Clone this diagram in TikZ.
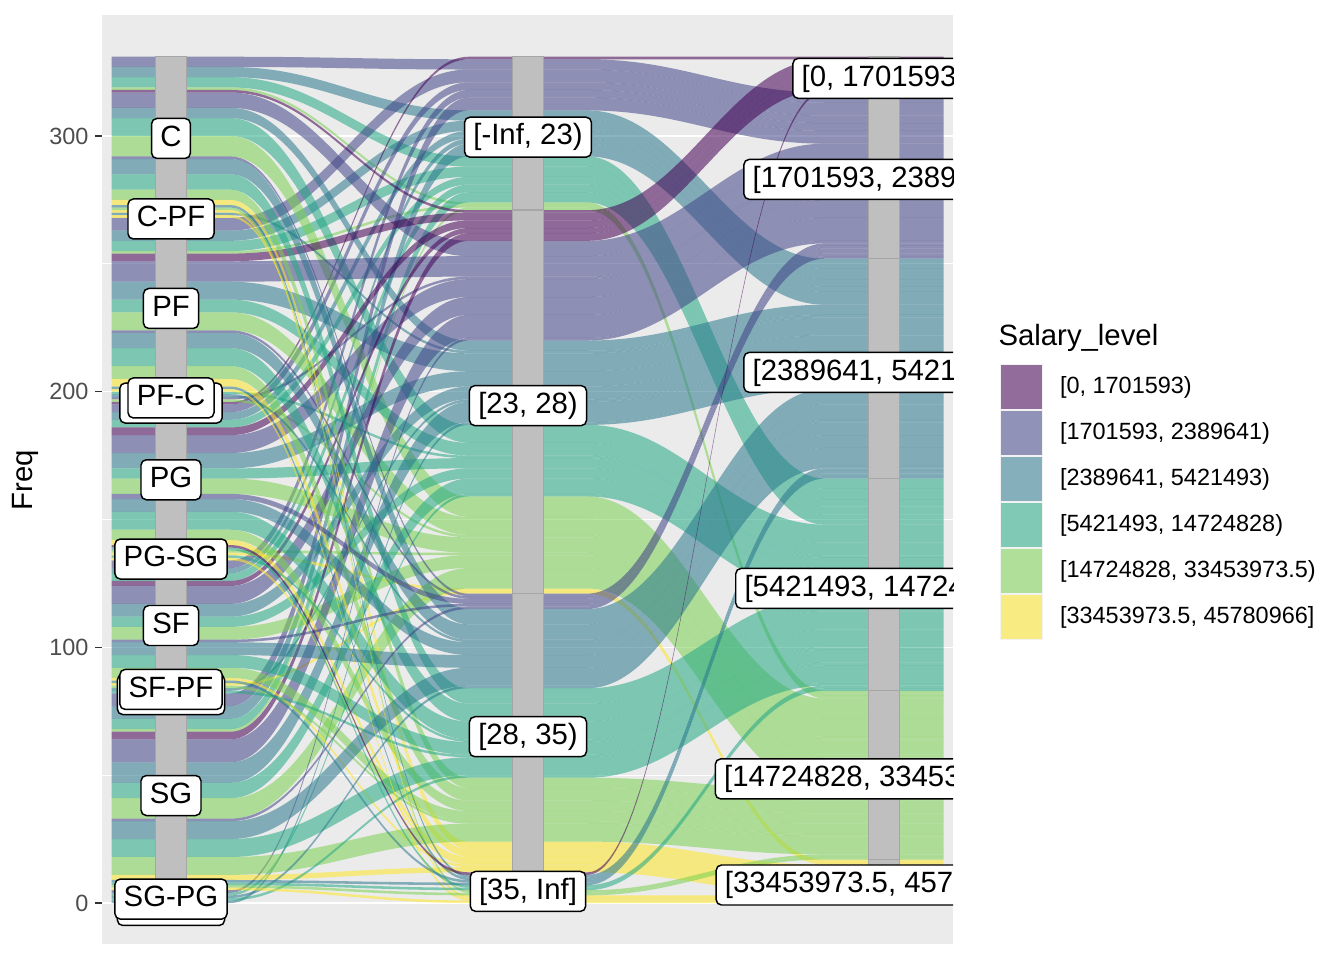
\documentclass[tikz,border=0pt]{standalone}
\usepackage{fontspec}
\setmainfont{Liberation Sans}
\usetikzlibrary{positioning}

\definecolor{sal1}{HTML}{440154}
\definecolor{sal2}{HTML}{414487}
\definecolor{sal3}{HTML}{2A788E}
\definecolor{sal4}{HTML}{22A884}
\definecolor{sal5}{HTML}{7AD151}
\definecolor{sal6}{HTML}{FDE725}
\definecolor{panelbg}{HTML}{EBEBEB}
\definecolor{keybg}{HTML}{F2F2F2}
\definecolor{strfill}{HTML}{BFBFBF}
\definecolor{strline}{HTML}{A6A6A6}
\definecolor{ticktext}{HTML}{4D4D4D}
\definecolor{tickline}{HTML}{333333}

\tikzset{
  freqaxis/.style={shift={(0,57)},yscale=2.5567},
  flow/.style={fill opacity=0.55},
  stratum/.style={fill=strfill, draw=strline, line width=0.5pt},
  lbl/.style={draw=black, fill=white, rounded corners=2pt, line width=0.55pt,
    font=\fontsize{11}{13}\selectfont, inner xsep=3.3pt, inner ysep=2.4pt,
    text height=8pt, text depth=2.2pt, yshift=-1.4pt},
  gridmajor/.style={draw=white, line width=0.6pt},
  gridminor/.style={draw=white, line width=0.3pt},
  tickmark/.style={draw=tickline, line width=0.55pt},
  ticklbl/.style={anchor=east, inner sep=0pt, text=ticktext, font=\fontsize{8.8}{10}\selectfont},
  keybox/.style={minimum width=16.1pt, minimum height=17.25pt, inner sep=0pt, fill=keybg},
  keyfill/.style={minimum width=15.3pt, minimum height=16.4pt, inner sep=0pt, fill opacity=0.55},
  legtxt/.style={anchor=west, inner sep=0pt, font=\fontsize{8.8}{10}\selectfont}
}

% position/age/salary/count
% position: 1 C, 2 C-PF, 3 PF, 4 PF-C, 5 PF-SF, 6 PG, 7 PG-SG, 8 SF, 9 SF-PF, 10 SF-SG, 11 SG, 12 SG-PG, 13 SG-SF
\def\flowdata{%
1/1/2/4,1/1/3/4,1/1/4/4,1/1/5/1,
3/1/2/5,3/1/3/4,3/1/4/4,3/1/5/1,
6/1/1/1,6/1/2/3,6/1/3/3,6/1/4/3,
8/1/2/3,8/1/3/2,8/1/4/3,
11/1/2/5,11/1/3/5,11/1/4/4,11/1/5/1,
1/2/1/1,1/2/2/6,1/2/3/4,1/2/4/7,1/2/5/8,
2/2/3/1,
3/2/1/3,3/2/2/8,3/2/3/7,3/2/4/5,3/2/5/7,
4/2/4/1,
5/2/2/1,5/2/5/1,
6/2/1/3,6/2/2/7,6/2/3/6,6/2/4/4,6/2/5/6,
7/2/5/1,7/2/6/1,
8/2/1/2,8/2/2/7,8/2/3/5,8/2/4/4,8/2/5/5,
9/2/6/1,
10/2/3/1,
11/2/1/3,11/2/2/9,11/2/3/8,11/2/4/6,11/2/5/8,
12/2/2/1,12/2/4/1,
13/2/3/1,
1/3/2/1,1/3/3/6,1/3/4/6,1/3/5/4,1/3/6/2,
2/3/6/1,
3/3/2/1,3/3/3/6,3/3/4/7,3/3/5/5,3/3/6/3,
4/3/3/1,
6/3/2/2,6/3/3/5,6/3/4/7,6/3/5/4,6/3/6/2,
7/3/4/1,7/3/6/1,
8/3/2/1,8/3/3/5,8/3/4/5,8/3/5/4,8/3/6/1,
9/3/5/1,
10/3/4/1,
11/3/2/1,11/3/3/7,11/3/4/7,11/3/5/7,11/3/6/2,
12/3/3/1,12/3/4/1,
1/4/3/1,1/4/5/1,1/4/6/1,
3/4/3/1,3/4/6/1,
6/4/1/1,6/4/4/1,
8/4/3/1,
11/4/3/1,11/4/4/1,11/4/5/1,11/4/6/1}

\begin{document}
\begin{tikzpicture}[x=0.375pt,y=0.375pt]
\useasboundingbox (0,0) rectangle (1344,960);

% counts
\foreach \posi/\agei/\sali/\frq in \flowdata
  {\expandafter\xdef\csname fq-\posi-\agei-\sali\endcsname{\frq}}

% stacking at the position axis
\gdef\cum{0}
\foreach \posi in {1,...,13}{\foreach \agei in {1,...,4}{\foreach \sali in {1,...,6}{%
  \ifcsname fq-\posi-\agei-\sali\endcsname
    \edef\fqv{\csname fq-\posi-\agei-\sali\endcsname}%
    \pgfmathsetmacro\runtop{331-\cum}%
    \expandafter\xdef\csname ya-\posi-\agei-\sali\endcsname{\runtop}%
    \pgfmathsetmacro\runtop{\cum+\fqv}%
    \xdef\cum{\runtop}%
  \fi}}}
% stacking at the age axis
\gdef\cum{0}
\foreach \agei in {1,...,4}{\foreach \sali in {1,...,6}{\foreach \posi in {1,...,13}{%
  \ifcsname fq-\posi-\agei-\sali\endcsname
    \edef\fqv{\csname fq-\posi-\agei-\sali\endcsname}%
    \pgfmathsetmacro\runtop{331-\cum}%
    \expandafter\xdef\csname yb-\posi-\agei-\sali\endcsname{\runtop}%
    \pgfmathsetmacro\runtop{\cum+\fqv}%
    \xdef\cum{\runtop}%
  \fi}}}
% stacking at the salary axis
\gdef\cum{0}
\foreach \sali in {1,...,6}{\foreach \agei in {1,...,4}{\foreach \posi in {1,...,13}{%
  \ifcsname fq-\posi-\agei-\sali\endcsname
    \edef\fqv{\csname fq-\posi-\agei-\sali\endcsname}%
    \pgfmathsetmacro\runtop{331-\cum}%
    \expandafter\xdef\csname yc-\posi-\agei-\sali\endcsname{\runtop}%
    \pgfmathsetmacro\runtop{\cum+\fqv}%
    \xdef\cum{\runtop}%
  \fi}}}

% panel
\fill[panelbg] (102,16) rectangle (953,945);

\begin{scope}[freqaxis]
  % grid and y axis
  \foreach \gy in {50,150,250}
    \draw[gridminor] (102,\gy) -- (953,\gy);
  \foreach \gy in {0,100,200,300} {
    \draw[gridmajor] (102,\gy) -- (953,\gy);
    \draw[tickmark] (95,\gy) -- (102,\gy);
    \node[ticklbl] (tick\gy) at (89,\gy) {\gy};
  }
\end{scope}

\node[rotate=90, font=\fontsize{11}{13}\selectfont] (ylab) at (25,480) {Freq};

\begin{scope}
  \clip (102,16) rectangle (953,945);
  \begin{scope}[freqaxis]
    % alluvia
    \foreach \posi/\agei/\sali/\frq in \flowdata {
      \edef\ya{\csname ya-\posi-\agei-\sali\endcsname}
      \edef\yb{\csname yb-\posi-\agei-\sali\endcsname}
      \edef\yc{\csname yc-\posi-\agei-\sali\endcsname}
      \pgfmathsetmacro\yA{\ya-\frq}
      \pgfmathsetmacro\yB{\yb-\frq}
      \pgfmathsetmacro\yC{\yc-\frq}
      \fill[flow, fill=sal\sali] (111.5,\ya) -- (230.5,\ya)
        .. controls (325.7,\ya) and (373.3,\yb) .. (468.5,\yb) -- (587.5,\yb)
        .. controls (682.3,\yb) and (729.7,\yc) .. (824.5,\yc) -- (943.5,\yc)
        -- (943.5,\yC) -- (824.5,\yC)
        .. controls (729.7,\yC) and (682.3,\yB) .. (587.5,\yB) -- (468.5,\yB)
        .. controls (373.3,\yB) and (325.7,\yA) .. (230.5,\yA) -- (111.5,\yA) -- cycle;
    }

    % strata
    \foreach \lo/\hi in {0/1,1/5,5/82,82/84,84/86,86/134,134/138,138/196,196/198,198/200,200/268,268/270,270/331}
      \filldraw[stratum] (155.5,\lo) rectangle (186.5,\hi);
    \foreach \lo/\hi in {0/12,12/121,121/271,271/331}
      \filldraw[stratum] (512.5,\lo) rectangle (543.5,\hi);
    \foreach \lo/\hi in {0/17,17/83,83/166,166/252,252/317,317/331}
      \filldraw[stratum] (868.5,\lo) rectangle (899.5,\hi);

    % stratum labels
    \foreach \nm/\txt/\yy in {SGSF/SG-SF/0.5, SGPG/SG-PG/3, SG/SG/43.5, SFSG/SF-SG/83,
        SFPF/SF-PF/85, SF/SF/110, PGSG/PG-SG/136, PG/PG/167, PFSF/PF-SF/197,
        PFC/PF-C/199, PF/PF/234, CPF/C-PF/269, C/C/300.5}
      \node[lbl] (pos-\nm) at (171,\yy) {\txt};
    \foreach \nm/\txt/\yy in {a4/{[35, Inf]}/6, a3/{[28, 35)}/66.5,
        a2/{[23, 28)}/196, a1/{[-Inf, 23)}/301}
      \node[lbl] (age-\nm) at (528,\yy) {\txt};
    \foreach \nm/\txt/\yy in {s6/{[33453973.5, 45780966]}/8.5, s5/{[14724828, 33453973.5)}/50,
        s4/{[5421493, 14724828)}/124.5, s3/{[2389641, 5421493)}/209,
        s2/{[1701593, 2389641)}/284.5, s1/{[0, 1701593)}/324}
      \node[lbl] (sal-\nm) at (884,\yy) {\txt};
  \end{scope}
\end{scope}

% legend
\node[anchor=west, inner sep=0pt, font=\fontsize{11}{13}\selectfont] (legtitle) at (998,622) {Salary\_level};
\foreach \i/\txt in {1/{[0, 1701593)}, 2/{[1701593, 2389641)}, 3/{[2389641, 5421493)},
    4/{[5421493, 14724828)}, 5/{[14724828, 33453973.5)}, 6/{[33453973.5, 45780966]}} {
  \node[keybox] (key\i) at (1021.5,{573-46*(\i-1)}) {};
  \node[keyfill, fill=sal\i] (keyf\i) at (key\i) {};
  \node[legtxt, right=6pt of key\i] (legt\i) {\txt};
}

\end{tikzpicture}
\end{document}
